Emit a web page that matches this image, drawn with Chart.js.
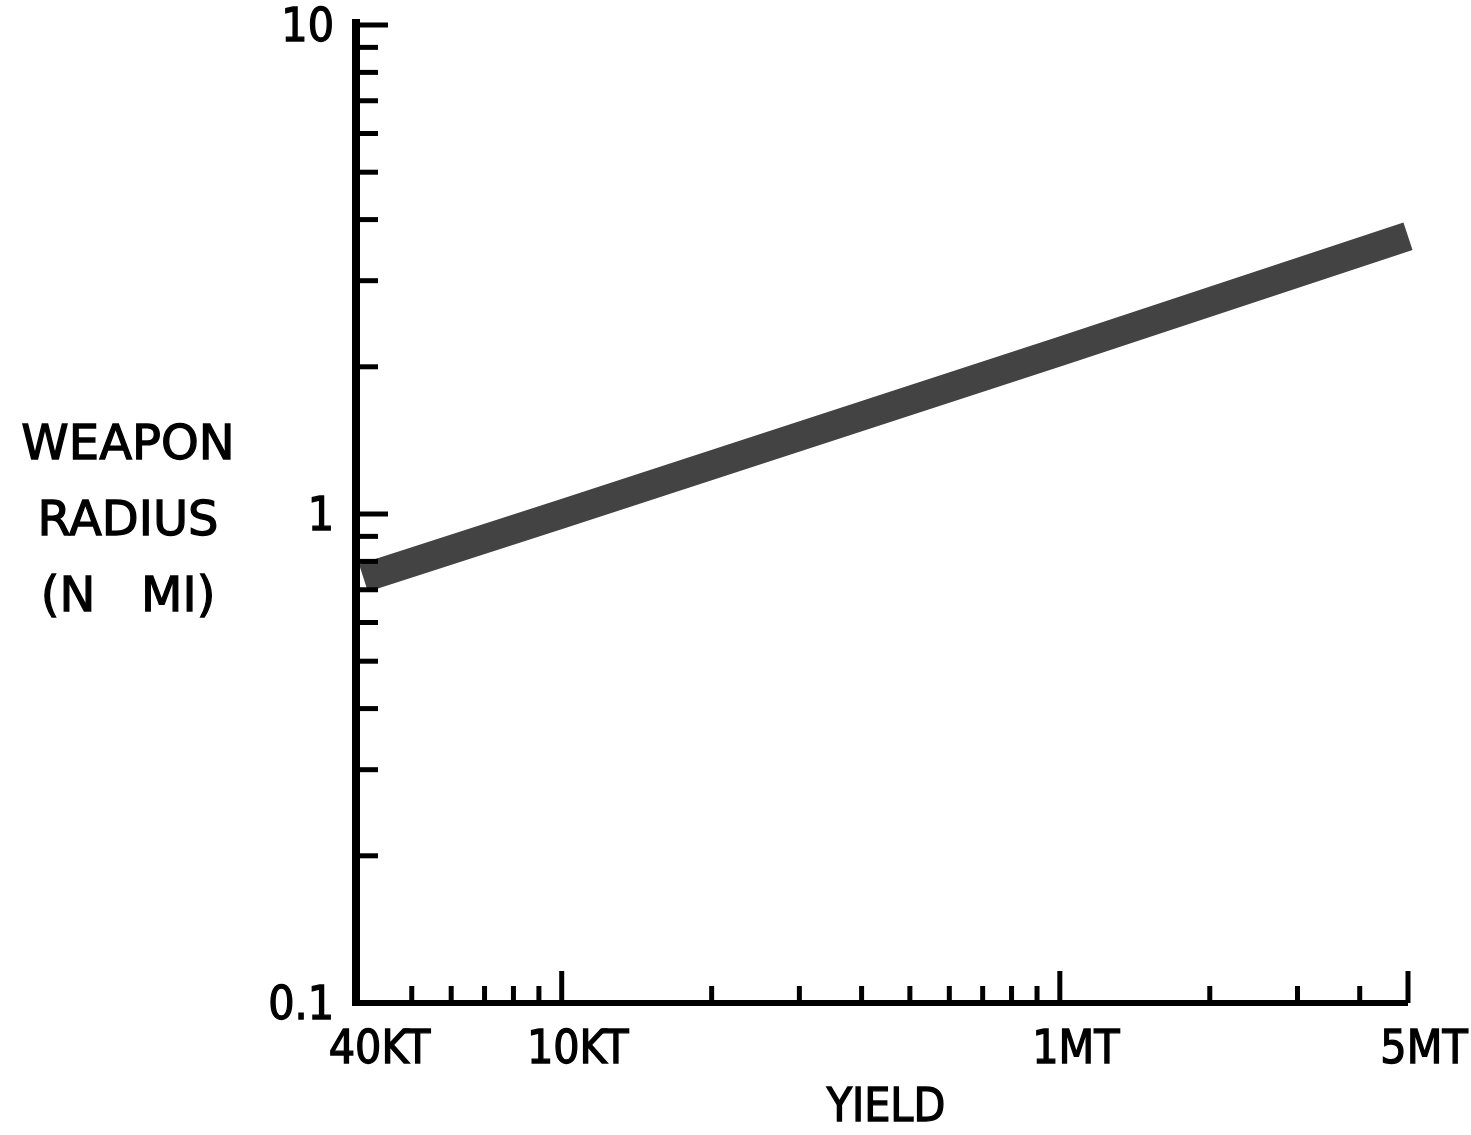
<!DOCTYPE html>
<html>
<head>
<meta charset="utf-8">
<style>
    html, body { margin: 0; padding: 0; background: #fff; }
    #wrap { width: 1471px; height: 1135px; }
</style>
<script src="https://cdn.jsdelivr.net/npm/chart.js@4/dist/chart.umd.min.js"></script>
</head>
<body>
<div id="wrap"><canvas id="radiusChart" width="1471" height="1135"></canvas></div>
<script>
// yield in KT, radius in nautical miles
const yieldKT = [40, 100, 1000, 5000];
const radiusNMI = [0.74, 1.0, 2.15, 3.7];

// axis ticks
const xLabelValues = [40, 100, 1000, 5000];
const xLabels = ['40KT', '10KT', '1MT', '5MT'];
const xMajorTicks = [100, 1000, 5000];
const xMinorTicks = [50, 60, 70, 80, 90, 200, 300, 400, 500, 600, 700, 800, 900, 2000, 3000, 4000];
const yLabelValues = [10, 1, 0.1];
const yLabels = ['10', '1', '0.1'];
const yMajorTicks = [10, 1];
const yMinorTicks = [0.2, 0.3, 0.4, 0.5, 0.6, 0.7, 0.8, 0.9, 2, 3, 4, 5, 6, 7, 8, 9];
const yTitleLines = ['WEAPON', 'RADIUS', '(N   MI)'];
const xTitle = 'YIELD';

// fill + thin stroke so the lettering looks a bit heavier, like the print
function heavyText(ctx, text, x, y) {
    ctx.fillText(text, x, y);
    ctx.strokeText(text, x, y);
}

const axesPlugin = {
    id: 'oldAxes',
    afterDraw: function(chart) {
        const ctx = chart.ctx;
        const area = chart.chartArea;
        const xs = chart.scales.x;
        const ys = chart.scales.y;
        ctx.save();
        ctx.strokeStyle = '#000';
        ctx.fillStyle = '#000';
        ctx.lineCap = 'butt';

        // axis lines
        ctx.lineWidth = 8;
        ctx.beginPath();
        ctx.moveTo(area.left - 2, area.top - 6);
        ctx.lineTo(area.left - 2, area.bottom + 3);
        ctx.stroke();
        ctx.lineWidth = 6;
        ctx.beginPath();
        ctx.moveTo(area.left - 6, area.bottom);
        ctx.lineTo(area.right, area.bottom);
        ctx.stroke();

        // y ticks, pointing inside
        ctx.lineWidth = 5;
        yMinorTicks.forEach(function(v) {
            const y = ys.getPixelForValue(v);
            ctx.beginPath();
            ctx.moveTo(area.left, y);
            ctx.lineTo(area.left + 20, y);
            ctx.stroke();
        });
        yMajorTicks.forEach(function(v) {
            const y = ys.getPixelForValue(v);
            ctx.beginPath();
            ctx.moveTo(area.left, y);
            ctx.lineTo(area.left + 30, y);
            ctx.stroke();
        });

        // x ticks, pointing up
        xMinorTicks.forEach(function(v) {
            const x = xs.getPixelForValue(v);
            ctx.beginPath();
            ctx.moveTo(x, area.bottom);
            ctx.lineTo(x, area.bottom - 17);
            ctx.stroke();
        });
        xMajorTicks.forEach(function(v) {
            const x = xs.getPixelForValue(v);
            ctx.beginPath();
            ctx.moveTo(x, area.bottom);
            ctx.lineTo(x, area.bottom - 32);
            ctx.stroke();
        });

        // tick labels
        ctx.lineWidth = 1.3;
        ctx.font = '46px "DejaVu Sans Condensed", "DejaVu Sans", sans-serif';
        ctx.textBaseline = 'middle';
        ctx.textAlign = 'right';
        yLabelValues.forEach(function(v, i) {
            heavyText(ctx, yLabels[i], area.left - 24, ys.getPixelForValue(v) + 4);
        });
        ctx.textAlign = 'center';
        xLabelValues.forEach(function(v, i) {
            heavyText(ctx, xLabels[i], xs.getPixelForValue(v) + 16, area.bottom + 48);
        });

        // axis titles
        ctx.font = '48px "DejaVu Sans", sans-serif';
        yTitleLines.forEach(function(t, i) {
            heavyText(ctx, t, 128, 447 + i * 76);
        });
        ctx.font = '46px "DejaVu Sans Condensed", "DejaVu Sans", sans-serif';
        heavyText(ctx, xTitle, 886, 1109);
        ctx.restore();
    }
};

document.addEventListener('DOMContentLoaded', function() {
    const ctx = document.getElementById('radiusChart').getContext('2d');
    const radiusChart = new Chart(ctx, {
        type: 'line',
        data: {
            datasets: [{
                data: yieldKT.map(function(x, i) { return { x: x, y: radiusNMI[i] }; }),
                borderColor: '#434343',
                borderWidth: 29,
                borderCapStyle: 'butt',
                pointRadius: 0,
                tension: 0,
                fill: false,
                clip: false
            }]
        },
        options: {
            responsive: false,
            animation: false,
            layout: {
                padding: { left: 358, right: 63, top: 25, bottom: 132 }
            },
            plugins: {
                legend: { display: false },
                tooltip: { enabled: false }
            },
            scales: {
                x: { type: 'logarithmic', min: 39, max: 5000, display: false },
                y: { type: 'logarithmic', min: 0.1, max: 10, display: false }
            }
        },
        plugins: [axesPlugin]
    });
});
</script>
</body>
</html>
